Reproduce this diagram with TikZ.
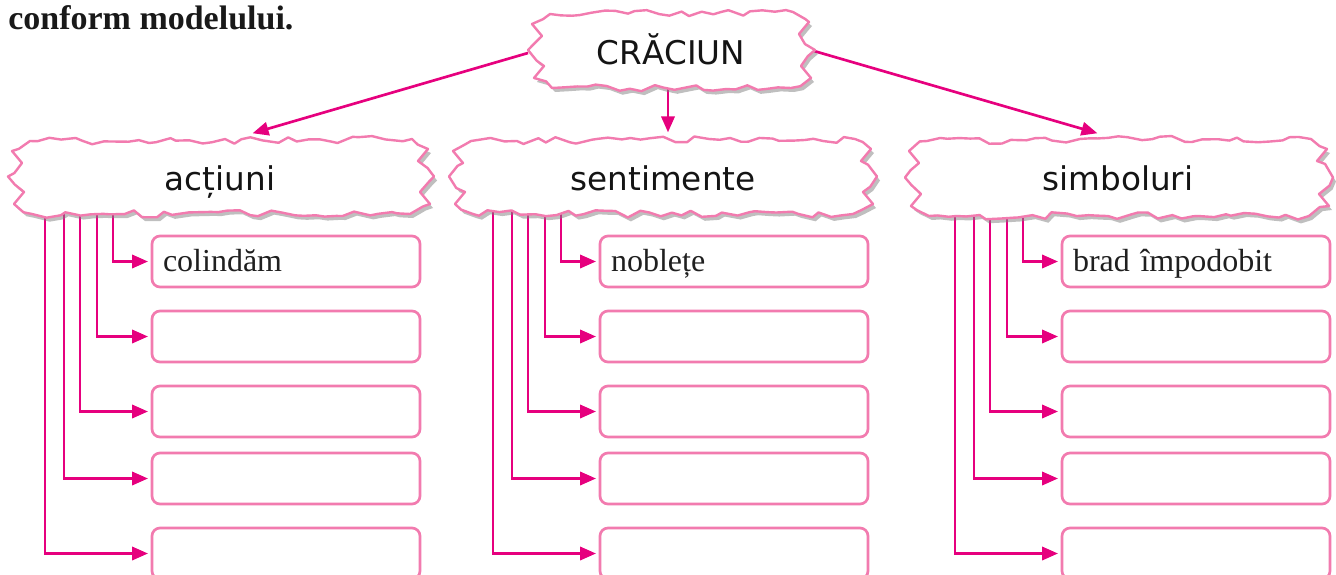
\documentclass[tikz,border=0pt]{standalone}
\usepackage{fontspec}
\setmainfont{Liberation Serif}
\newfontfamily\cloudfont{DejaVu Sans}
\usetikzlibrary{arrows.meta,decorations.pathmorphing}
\pgfdeclarelayer{bg}\pgfsetlayers{bg,main}
\definecolor{arrowmag}{HTML}{E6007E}
\definecolor{boxpink}{HTML}{F27BAF}
\tikzset{
  conn/.style={draw=arrowmag, line width=2pt, -{Triangle[length=12pt,width=10pt]}, shorten >=2pt},
  answerbox/.style={draw=boxpink, line width=2pt, rounded corners=6pt, minimum width=201pt,
    minimum height=38.25pt, text width=184.5pt, inner xsep=8.25pt, inner ysep=0pt, align=left,
    text height=15pt, text depth=0pt, font=\fontsize{24}{28}\selectfont, text=black!88, fill=white},
  cloudlabel/.style={font=\cloudfont\fontsize{24.5}{28}\selectfont, text=black!92, anchor=base, inner sep=0pt},
  cloudedge/.style={decorate, decoration={random steps, segment length=8pt, amplitude=2.8pt}, line join=round},
}
\newcommand\drawcloud[5]{%
  \pgfmathsetseed{#5}
  \path[cloudedge, fill=black!50, opacity=0.5, shift={(3,4)}]
    (#1,{(#2+#4)/2}) -- ({#1+14},{#2+24}) -- ({#1+4},{#2+12}) -- ({#1+22},{#2+2})
    -- ({#3-22},#2) -- ({#3-6},{#2+10}) -- ({#3-16},{#2+22}) -- (#3,{(#2+#4)/2})
    -- ({#3-14},{#4-22}) -- ({#3-4},{#4-10}) -- ({#3-24},#4) -- ({#1+24},#4)
    -- ({#1+6},{#4-10}) -- ({#1+16},{#4-22}) -- cycle;
  \pgfmathsetseed{#5}
  \path[cloudedge, fill=white, draw=boxpink, line width=1.8pt]
    (#1,{(#2+#4)/2}) -- ({#1+14},{#2+24}) -- ({#1+4},{#2+12}) -- ({#1+22},{#2+2})
    -- ({#3-22},#2) -- ({#3-6},{#2+10}) -- ({#3-16},{#2+22}) -- (#3,{(#2+#4)/2})
    -- ({#3-14},{#4-22}) -- ({#3-4},{#4-10}) -- ({#3-24},#4) -- ({#1+24},#4)
    -- ({#1+6},{#4-10}) -- ({#1+16},{#4-22}) -- cycle;
}
\begin{document}
\begin{tikzpicture}[x=0.75pt, y=-0.75pt]
\useasboundingbox (0,0) rectangle (1336,575);

% title text
\node[anchor=base west, inner sep=0pt, font=\bfseries\fontsize{25.5}{30}\selectfont, text=black!90] (title) at (8,29) {conform modelului.};

% connector end points
\coordinate (cW) at (528,53);
\coordinate (cS) at (668,86);
\coordinate (cE) at (814,51);
\coordinate (tA) at (250,134);
\coordinate (tS) at (668,135);
\coordinate (tB) at (1100,134);

% boxes
\foreach \g/\k/\t in {0/1/colindăm, 448/2/nobleț{}e, 910/3/brad împodobit}{
  \node[answerbox] (b\k-1) at (\g+286,261.5) {\t};
  \node[answerbox] (b\k-2) at (\g+286,336.5) {};
  \node[answerbox] (b\k-3) at (\g+286,411.5) {};
  \node[answerbox] (b\k-4) at (\g+286,478.5) {};
  \node[answerbox] (b\k-5) at (\g+286,553.5) {};
  \coordinate (s\k-1) at (\g+113,200);
  \coordinate (s\k-2) at (\g+97,200);
  \coordinate (s\k-3) at (\g+80,200);
  \coordinate (s\k-4) at (\g+64,200);
  \coordinate (s\k-5) at (\g+45,200);
}

\begin{pgfonlayer}{bg}
  \draw[conn] (cW) -- (tA);
  \draw[conn] (cS) -- (tS);
  \draw[conn] (cE) -- (tB);
  \foreach \k in {1,2,3}{
    \foreach \r in {1,...,5}{
      \draw[conn] (s\k-\r) |- (b\k-\r.west);
    }
  }
\end{pgfonlayer}

% clouds
\drawcloud{528}{12}{815}{88}{11}
\drawcloud{8}{139}{434}{214}{23}
\drawcloud{449}{139}{877}{214}{37}
\drawcloud{905}{139}{1333}{216}{41}

% cloud labels
\node[cloudlabel] (crac) at (671,64) {CRĂCIUN};
\node[cloudlabel] (act) at (220,190) {acțiuni};
\node[cloudlabel] (sent) at (663,190) {sentimente};
\node[cloudlabel] (simb) at (1118,190) {simboluri};
\end{tikzpicture}
\end{document}
